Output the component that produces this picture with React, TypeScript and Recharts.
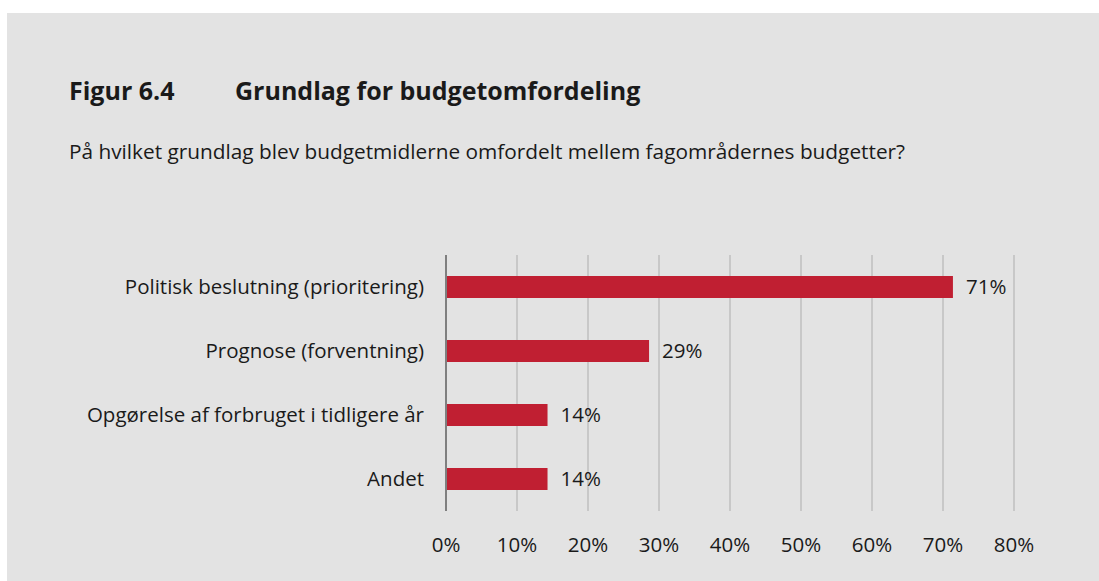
import React from 'react';
import { BarChart, Bar, XAxis, YAxis, CartesianGrid, LabelList } from 'recharts';

// Answer categories and share of respondents (percent)
const categories = [
  'Politisk beslutning (prioritering)',
  'Prognose (forventning)',
  'Opgørelse af forbruget i tidligere år',
  'Andet',
];
const shares = [71.4, 28.6, 14.3, 14.3];
const xTicks = [0, 10, 20, 30, 40, 50, 60, 70, 80];

const data = categories.map((name, i) => ({ name, value: shares[i] }));

const FONT = '"Open Sans", "Noto Sans", sans-serif';
const TEXT = '#1a1a1a';
const CHART_FONT = 20.5;

export default function App() {
  return (
    <div style={{ position: 'absolute', left: 0, top: 0, width: 1099, height: 581, background: '#ffffff', fontFamily: FONT }}>
      <div style={{ position: 'absolute', left: 7, top: 13, right: 0, bottom: 0, background: '#e3e3e3' }} />
      <div style={{ position: 'absolute', left: 69, top: 73, fontSize: 25, fontWeight: 700, color: TEXT, whiteSpace: 'nowrap' }}>
        <span style={{ display: 'inline-block', width: 166 }}>Figur 6.4</span>
        <span>Grundlag for budgetomfordeling</span>
      </div>
      <div style={{ position: 'absolute', left: 69, top: 137, fontSize: 20.8, color: TEXT, whiteSpace: 'nowrap' }}>
        På hvilket grundlag blev budgetmidlerne omfordelt mellem fagområdernes budgetter?
      </div>
      <div style={{ position: 'absolute', left: 0, top: 0 }}>
        <BarChart
          width={1099}
          height={581}
          data={data}
          layout="vertical"
          margin={{ top: 255, right: 85, bottom: 30, left: 0 }}
          barSize={22}
          style={{ fontFamily: FONT }}
        >
          <CartesianGrid horizontal={false} stroke="#c8c8c8" strokeWidth={2} />
          <XAxis
            type="number"
            domain={[0, 80]}
            ticks={xTicks}
            tickFormatter={(v: number) => `${v}%`}
            axisLine={false}
            tickLine={false}
            tickSize={0}
            tickMargin={26}
            height={40}
            tick={{ fill: TEXT, fontSize: CHART_FONT }}
          />
          <YAxis
            type="category"
            dataKey="name"
            width={446}
            axisLine={{ stroke: '#7f7f7f', strokeWidth: 2 }}
            tickLine={false}
            tickSize={0}
            tickMargin={22}
            tick={{ fill: TEXT, fontSize: CHART_FONT }}
          />
          <Bar dataKey="value" fill="#c01f32" isAnimationActive={false}>
            <LabelList
              dataKey="value"
              position="right"
              offset={13}
              fill={TEXT}
              fontSize={CHART_FONT}
              formatter={(v: number) => `${Math.round(v)}%`}
            />
          </Bar>
        </BarChart>
      </div>
    </div>
  );
}
